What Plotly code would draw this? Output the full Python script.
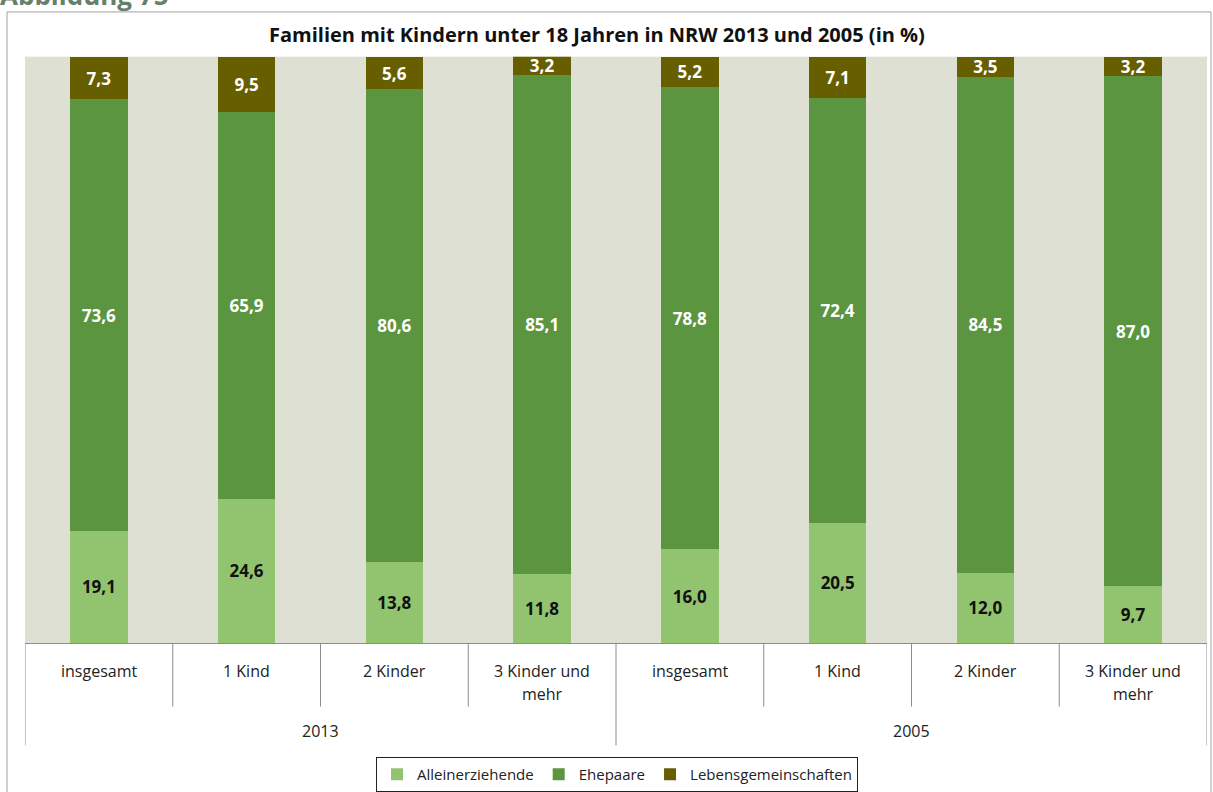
import plotly.graph_objects as go

years = ["2013", "2005"]
categories = ["insgesamt", "1 Kind", "2 Kinder", "3 Kinder und mehr"]
category_lines = {"3 Kinder und mehr": ["3 Kinder und", "mehr"]}

alleinerziehende = [19.1, 24.6, 13.8, 11.8, 16.0, 20.5, 12.0, 9.7]
ehepaare = [73.6, 65.9, 80.6, 85.1, 78.8, 72.4, 84.5, 87.0]
lebensgemeinschaften = [7.3, 9.5, 5.6, 3.2, 5.2, 7.1, 3.5, 3.2]

series = [
    ("Alleinerziehende", alleinerziehende, "#92C36F", "#111111"),
    ("Ehepaare", ehepaare, "#5B9540", "#FFFFFF"),
    ("Lebensgemeinschaften", lebensgemeinschaften, "#675E00", "#FFFFFF"),
]

W, H = 1213, 792
PLOT_L, PLOT_R, PLOT_T, PLOT_B = 25, 1207, 57, 647

def py(pix):  # pixel y -> paper y (paper = whole figure)
    return (H - pix) / H

def px(pix):
    return pix / W

FONT = "Open Sans"
n = len(years) * len(categories)
xpos = list(range(n))

fig = go.Figure()
for name, vals, color, tcolor in series:
    fig.add_trace(go.Bar(
        x=xpos, y=vals, name=name,
        marker=dict(color=color, line=dict(width=0)),
        width=0.39,
        text=[f"{v:.1f}".replace(".", ",") for v in vals],
        textposition="inside", insidetextanchor="middle",
        textangle=0,
        textfont=dict(family=FONT, size=17, color=tcolor, weight="bold"),
        hoverinfo="skip",
    ))

annotations = []
shapes = []
for gi, yr in enumerate(years):
    for ci, cat in enumerate(categories):
        i = gi * len(categories) + ci
        lines = category_lines.get(cat, [cat])
        for li, ln in enumerate(lines):
            annotations.append(dict(
                x=i, xref="x", y=py(675 + 23 * li), yref="paper",
                text=ln, showarrow=False, xanchor="center", yanchor="middle",
                font=dict(family=FONT, size=16, color="#222222"),
            ))
    annotations.append(dict(
        x=(gi * len(categories) + (gi + 1) * len(categories) - 1) / 2, xref="x",
        y=py(736), yref="paper", text=yr, showarrow=False,
        xanchor="center", yanchor="middle",
        font=dict(family=FONT, size=16, color="#222222"),
    ))

for b in range(n + 1):
    outer = b % len(categories) == 0
    shapes.append(dict(
        type="line", xref="x", yref="paper",
        x0=b - 0.5, x1=b - 0.5, y0=py(PLOT_B), y1=py(750 if outer else 711),
        line=dict(color="#8C8C8C", width=1),
    ))

shapes.append(dict(
    type="rect", xref="paper", yref="paper",
    x0=px(7), x1=px(1211), y0=py(800), y1=py(12),
    line=dict(color="#A0A0A0", width=1), layer="below",
))

annotations.append(dict(
    x=px(597), xref="paper", y=py(35), yref="paper",
    text="Familien mit Kindern unter 18 Jahren in NRW 2013 und 2005 (in %)",
    showarrow=False, xanchor="center", yanchor="middle",
    font=dict(family=FONT, size=20, color="#111111", weight="bold"),
))
annotations.append(dict(
    x=px(-2), xref="paper", y=py(15), yref="paper",
    text="Abbildung 75", showarrow=False, xanchor="left", yanchor="bottom",
    font=dict(family=FONT, size=26, color="#66806A", weight="bold"),
))

fig.update_layout(
    width=W, height=H, autosize=False,
    margin=dict(l=0, r=0, t=0, b=0, pad=0),
    barmode="stack",
    paper_bgcolor="white", plot_bgcolor="#DFE0D4",
    showlegend=True,
    legend=dict(
        orientation="h", x=px(617), xanchor="center", y=py(762), yanchor="top",
        bordercolor="#222222", borderwidth=1,
        font=dict(family=FONT, size=15, color="#222222"),
        itemclick=False, itemdoubleclick=False,
        itemwidth=30, tracegroupgap=0,
        traceorder="normal",
    ),
    xaxis=dict(domain=[px(PLOT_L), px(PLOT_R)], range=[-0.5, n - 0.5],
               showticklabels=False, showgrid=False,
               zeroline=False, showline=True, linecolor="#8C8C8C", linewidth=1,
               fixedrange=True),
    yaxis=dict(domain=[py(PLOT_B), py(PLOT_T)], range=[0, 100],
               showticklabels=False, showgrid=False,
               zeroline=False, showline=False, fixedrange=True),
    annotations=annotations,
    shapes=shapes,
    uniformtext=dict(minsize=14, mode="show"),
)

fig.write_html(
    "out.html",
    config={"displayModeBar": False},
    post_script="document.body.style.margin='0';document.body.style.overflow='hidden';",
)
